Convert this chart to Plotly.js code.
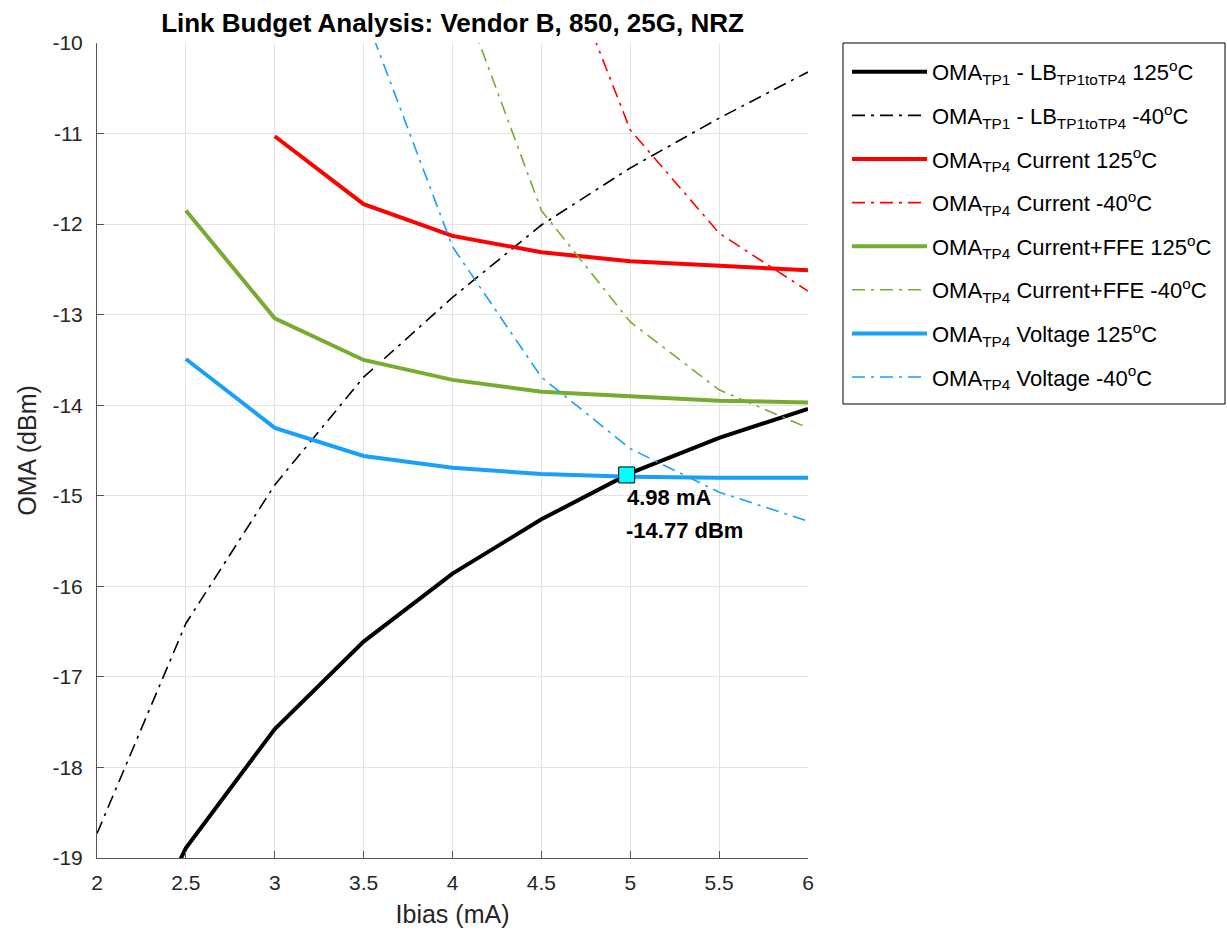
<!DOCTYPE html>
<html>
<head>
<meta charset="utf-8">
<script src="https://cdn.plot.ly/plotly-3.0.1.min.js"></script>
<style>html,body{margin:0;padding:0;background:#fff;}#chart{width:1227px;height:934px;}</style>
</head>
<body>
<div id="chart"></div>
<script>
// Ibias values (mA)
const ibias = [2, 2.5, 3, 3.5, 4, 4.5, 5, 5.5, 6];

// OMA_TP1 - LB_TP1toTP4
const lb125 = [-20.9, -18.89, -17.575, -16.61, -15.86, -15.26, -14.75, -14.36, -14.04];
const lbM40 = [-18.73, -16.41, -14.88, -13.69, -12.81, -12.01, -11.38, -10.83, -10.32];

// OMA_TP4 Current
const cur125 = [null, null, -11.03, -11.78, -12.13, -12.31, -12.41, -12.46, -12.51];
const curM40 = [null, null, null, null, null, -8.45, -10.96, -12.10, -12.74];

// OMA_TP4 Current+FFE
const ffe125 = [null, -11.85, -13.04, -13.50, -13.72, -13.85, -13.90, -13.95, -13.97];
const ffeM40 = [null, null, null, null, -9.2, -11.85, -13.08, -13.83, -14.25];

// OMA_TP4 Voltage
const vol125 = [null, -13.49, -14.25, -14.56, -14.69, -14.76, -14.79, -14.80, -14.80];
const volM40 = [null, null, null, -9.65, -12.25, -13.69, -14.48, -14.96, -15.28];

// Crossing point
const crossX = [4.98];
const crossY = [-14.77];
const crossLabels = ["4.98 mA", "-14.77 dBm"];

const xTicks = [2, 2.5, 3, 3.5, 4, 4.5, 5, 5.5, 6];
const yTicks = [-19, -18, -17, -16, -15, -14, -13, -12, -11, -10];

const BLACK = '#000000', RED = '#ff0000', GREEN = '#77ac30', BLUE = '#18a0fb';
const DD = '13px,6px,3px,6px';

function tr(y, color, width, dash, name, grp) {
  return {
    x: ibias, y: y, type: 'scatter', mode: 'lines', name: name,
    legendgroup: grp, connectgaps: false,
    line: {color: color, width: width, dash: dash}, cliponaxis: true
  };
}

const data = [
  tr(lb125, BLACK, 4, 'solid', 'OMA<sub>TP1</sub> - LB<sub>TP1toTP4</sub> 125<sup>o</sup>C', 'g1'),
  tr(lbM40, BLACK, 1.6, DD, 'OMA<sub>TP1</sub> - LB<sub>TP1toTP4</sub> -40<sup>o</sup>C', 'g2'),
  tr(cur125, RED, 4, 'solid', 'OMA<sub>TP4</sub> Current 125<sup>o</sup>C', 'g3'),
  tr(curM40, RED, 1.6, DD, 'OMA<sub>TP4</sub> Current -40<sup>o</sup>C', 'g4'),
  tr(ffe125, GREEN, 4, 'solid', 'OMA<sub>TP4</sub> Current+FFE 125<sup>o</sup>C', 'g5'),
  tr(ffeM40, GREEN, 1.6, DD, 'OMA<sub>TP4</sub> Current+FFE -40<sup>o</sup>C', 'g6'),
  tr(vol125, BLUE, 4, 'solid', 'OMA<sub>TP4</sub> Voltage 125<sup>o</sup>C', 'g7'),
  tr(volM40, BLUE, 1.6, DD, 'OMA<sub>TP4</sub> Voltage -40<sup>o</sup>C', 'g8'),
  {
    x: crossX, y: crossY, type: 'scatter', mode: 'markers', showlegend: false,
    marker: {symbol: 'square', size: 16, color: '#00ffff', line: {color: '#000', width: 1}}
  }
];

const FONT = 'Liberation Sans, Arial, sans-serif';
const W = 1227, H = 934;

const layout = {
  width: W, height: H,
  margin: {l: 97, r: 419, t: 43, b: 76},
  paper_bgcolor: '#fff', plot_bgcolor: '#fff',
  font: {family: FONT, color: '#000'},
  title: {
    text: '<b>Link Budget Analysis: Vendor B, 850, 25G, NRZ</b>',
    font: {size: 26, color: '#000', family: FONT},
    x: 0.5, xref: 'paper', xanchor: 'center', y: 0.976, yref: 'container', yanchor: 'middle'
  },
  xaxis: {
    range: [2, 6], tickvals: xTicks, ticktext: xTicks.map(String),
    showgrid: true, gridcolor: '#e3e3e3', gridwidth: 1, zeroline: false,
    showline: true, linecolor: '#555', linewidth: 1, mirror: false,
    ticks: 'inside', ticklen: 7, tickcolor: '#555', ticklabelstandoff: 6,
    tickfont: {size: 21, family: FONT, color: '#262626'},
    title: {text: 'Ibias (mA)', font: {size: 25, family: FONT, color: '#262626'}, standoff: 12}
  },
  yaxis: {
    range: [-19, -10], tickvals: yTicks, ticktext: yTicks.map(String),
    showgrid: true, gridcolor: '#e3e3e3', gridwidth: 1, zeroline: false,
    showline: true, linecolor: '#555', linewidth: 1, mirror: false,
    ticks: 'inside', ticklen: 7, tickcolor: '#555', ticklabelstandoff: 9,
    tickfont: {size: 21, family: FONT, color: '#262626'},
    title: {text: 'OMA (dBm)', font: {size: 25, family: FONT, color: '#262626'}, standoff: 8}
  },
  legend: {
    x: 847 / W, xref: 'container', xanchor: 'left',
    y: 1 - 51 / H, yref: 'container', yanchor: 'top',
    borderwidth: 0, bgcolor: 'rgba(0,0,0,0)',
    font: {size: 22, family: FONT, color: '#000'},
    traceorder: 'grouped', tracegroupgap: 12, itemwidth: 75
  },
  shapes: [
    {type: 'rect', xref: 'paper', yref: 'paper',
     x0: (843 - 97) / 711, x1: (1225 - 97) / 711,
     y0: (858 - 404) / 815, y1: (858 - 43) / 815,
     line: {color: '#000', width: 1}, fillcolor: 'rgba(0,0,0,0)', layer: 'above'}
  ],
  annotations: [
    {x: crossX[0], y: crossY[0], xref: 'x', yref: 'y', text: '<b>' + crossLabels[0] + '</b>',
     showarrow: false, xanchor: 'left', yanchor: 'top', xshift: -2, yshift: -8,
     font: {size: 22, family: FONT, color: '#000'}},
    {x: crossX[0], y: crossY[0], xref: 'x', yref: 'y', text: '<b>' + crossLabels[1] + '</b>',
     showarrow: false, xanchor: 'left', yanchor: 'top', xshift: -3, yshift: -41,
     font: {size: 22, family: FONT, color: '#000'}}
  ],
  showlegend: true
};

Plotly.newPlot('chart', data, layout, {displayModeBar: false, staticPlot: true});
</script>
</body>
</html>
